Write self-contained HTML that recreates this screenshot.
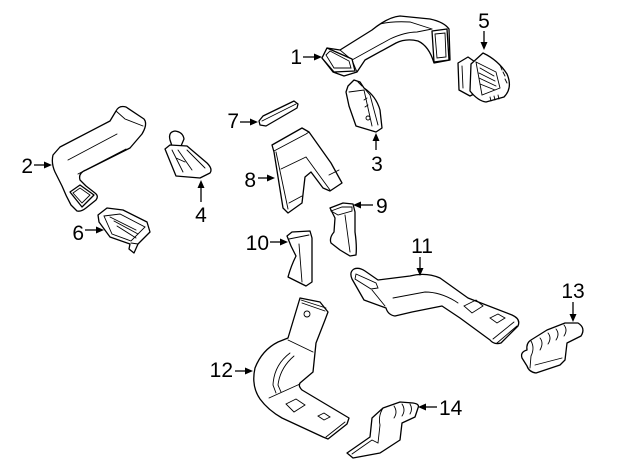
<!DOCTYPE html>
<html><head><meta charset="utf-8"><style>
html,body{margin:0;padding:0;background:#fff;}
svg{display:block;}
text{font-family:"Liberation Sans",Arial,sans-serif;font-size:21px;fill:#000;}
.p{fill:#fff;stroke:#000;stroke-width:1.3;stroke-linejoin:round;stroke-linecap:round;}
.l{fill:none;stroke:#000;stroke-width:0.9;stroke-linecap:round;}
.a{stroke:#000;stroke-width:1.3;fill:none;}
.h{fill:#000;}
</style></head><body>
<svg width="640" height="471" viewBox="0 0 640 471" xmlns="http://www.w3.org/2000/svg">

<!-- Part 1 -->
<path class="p" d="M322,58 L327,48 L340,50 L372,30 Q388,17 400,16 L430,19 Q444,22 449,29 L450,60 L434,63 Q429,46 418,41 Q406,38 396,43 L365,60 L357,72 L344,76 L333,72 Z"/>
<path class="l" d="M352,60 L390,39 Q405,32 417,32 L432,29"/>
<path class="l" d="M340,50 L352,60 L357,72"/>
<path class="l" d="M380,24 Q392,21 410,22 L432,29"/>
<path class="p" d="M432,31 L447,29 L449,60 L434,62 Z"/>
<path class="l" d="M435,34 L445,33 L446,57 L437,58 Z"/>
<path class="p" d="M322,58 L327,48 L352,59 L355,71 L334,72 Z"/>
<path class="l" d="M326,55 L330,51 L349,61 L351,68 L334,68 Z"/>

<!-- Part 5 -->
<path class="p" d="M458,63 L468,57 L478,64 L478,92 L470,96 L459,90 Z"/>
<path class="l" d="M462,66 L463,88"/>
<path class="p" d="M483,53 Q498,60 507,74 Q513,88 504,97 L486,102 Q478,101 470,91 L471,64 Z"/>
<path class="l" d="M476,62 L496,72 L500,88 L482,95 Z"/>
<path class="l" d="M480,68 L494,76 M479,73 L495,81 M479,78 L496,86 M480,84 L495,90"/>
<path class="l" d="M500,65 L502,70 M503,72 L505,76 M505,79 L507,83 M490,97 L491,101 M494,96 L495,100 M498,95 L499,99"/>

<!-- Part 3 -->
<path class="p" d="M348,86 L354,80 L360,82 L364,88 Q376,96 380,110 L382,128 L376,132 L356,126 L349,106 L346,92 Z"/>
<path class="l" d="M349,92 L364,90 L372,126"/>
<path class="l" d="M364,88 L370,95 L378,125"/>
<path class="l" d="M358,82 L362,86"/>
<circle class="l" cx="368" cy="118" r="2"/>
<path class="l" d="M364,100 L367,98 M365,107 L368,105"/>

<!-- Part 2 -->
<path class="p" d="M53,155 Q51,163 55,172 L62,186 Q66,196 71,205 L77,211 Q81,212 86,208 L96,200 Q99,196 95,193 L86,186 L80,180 Q78,173 86,170 L130,148 L142,134 Q148,124 144,119 L126,107 Q119,105 116,111 L110,121 L60,147 Z"/>
<path class="l" d="M68,160 L117,134 M78,174 L126,149 M116,111 L125,119 L143,126"/>
<path class="p" d="M70,192 L80,185 L94,195 L82,207 Z"/>
<path class="l" d="M73,193 L80,188 L90,195 L82,203 Z"/>

<!-- Part 4 -->
<path class="p" d="M170,140 Q168,132 175,131 Q183,132 184,139 L181,146 L172,146 Z"/>
<path class="p" d="M165,149 L170,145 L187,146 L207,163 Q213,169 210,173 L200,178 L176,176 Z"/>
<path class="l" d="M172,150 L183,172 M178,150 L192,170 M187,150 L205,168 M176,158 L185,162"/>

<!-- Part 6 -->
<path class="p" d="M98,215 L107,208 L123,210 L147,222 L150,232 L138,244 L134,253 L129,249 L130,244 L110,237 L99,222 Z"/>
<path class="l" d="M104,216 L120,214 L145,227 L131,241 L112,234 Z"/>
<path class="l" d="M110,217 L136,230 M114,221 L138,234 M117,226 L136,238"/>
<path class="l" d="M131,243 L138,244"/>

<!-- Part 7 -->
<path class="p" d="M259,121 L263,116 L294,101 L298,104 L297,108 L266,126 L260,125 Z"/>
<path class="l" d="M262,121 L296,104"/>

<!-- Part 8 -->
<path class="p" d="M272,145 L274,152 L283,208 L288,213 L302,203 L305,177 L311,172 L323,188 L330,191 L342,183 L331,163 L309,132 L302,128 Z"/>
<path class="l" d="M274,151 L306,134 L309,132 M276,152 L288,209 M281,169 L306,157 M306,157 L330,190 M289,203 L302,196 M329,175 L339,170"/>

<!-- Part 9 -->
<path class="p" d="M330,208 L343,203 L353,204 L355,212 L355,232 Q357,246 356,255 L350,256 L340,250 L331,243 Q329,238 334,232 L335,218 Z"/>
<path class="l" d="M331,211 L342,207 L352,207 L352,211 L338,215 Z"/>
<path class="l" d="M345,215 L350,252"/>

<!-- Part 10 -->
<path class="p" d="M287,236 L292,232 L310,231 L312,238 L312,282 L306,286 L288,277 Q291,266 296,256 L291,246 Z"/>
<path class="l" d="M289,239 L309,235 M299,244 L302,282"/>

<!-- Part 11 -->
<path class="p" d="M352,279 Q349,272 354,269 Q359,267 365,271 L378,280 L410,276 Q426,272 440,278 L468,298 L512,315 Q521,319 518,326 L501,343 Q494,345 490,340 L460,318 L442,306 L412,312 L395,316 Q388,315 386,308 L364,300 Z"/>
<path class="l" d="M356,274 L376,283 L378,288 L371,289 L355,279 Z"/>
<path class="l" d="M372,290 L385,306 M393,298 L425,292 Q440,292 455,301 L458,303"/>
<path class="l" d="M464,306 L476,300 L483,306 L472,313 Z M490,318 L498,314 L505,318 L497,323 Z"/>
<path class="l" d="M493,339 L514,322 M497,343 L517,326"/>

<!-- Part 12 -->
<path class="p" d="M300,298 L288,338 L278,342 Q262,350 255,368 Q251,386 260,399 Q268,410 282,418 L323,437 L328,439 L347,424 L349,418 L302,390 Q298,386 300,383 L313,372 L316,343 L325,320 L328,312 L320,302 Z"/>
<path class="l" d="M301,300 L326,308 M302,303 L325,311"/>
<circle class="l" cx="307" cy="314" r="3"/>
<path class="l" d="M288,340 L313,352"/>
<path class="l" d="M290,353 Q274,365 273,385 L276,393 M294,356 Q280,368 278,385 L281,392"/>
<path class="l" d="M269,398 L300,384 M286,404 L296,399 L305,405 L294,412 Z M318,416 L324,413 L330,417 L324,420 Z M326,437 L345,422"/>

<!-- Part 13 -->
<path class="p" d="M527,350 Q526,343 531,340 L547,330 L565,323 L578,323 Q586,328 581,336 L567,343 L565,360 L560,365 L536,373 Q529,372 527,366 L522,358 Q520,352 527,350 Z"/>
<path class="l" d="M531,341 Q535,348 531,356 L530,368"/>
<path class="l" d="M548,333 Q552,338 548,344 M556,329 Q560,334 556,340 M564,325 Q568,330 564,336 M540,338 Q544,343 540,350"/>
<path class="l" d="M535,365 L562,358"/>

<!-- Part 14 -->
<path class="p" d="M413,403 Q420,404 418,408 L415,417 L402,423 L400,440 L380,453 L353,458 L347,453 L370,437 L372,418 L383,408 L400,402 Z"/>
<path class="l" d="M383,408 Q378,416 380,425 L378,443 M394,406 Q398,412 394,418 M402,404 Q406,410 402,416 M410,404 Q413,409 410,414"/>
<path class="l" d="M352,454 L372,440 L378,443"/>

<!-- Labels and arrows -->
<text x="302" y="64" text-anchor="end">1</text>
<line class="a" x1="303" y1="57" x2="316" y2="57"/><path class="h" d="M322,57 L314,53.5 L314,60.5 Z"/>

<text x="33" y="173" text-anchor="end">2</text>
<line class="a" x1="34" y1="165" x2="46" y2="165"/><path class="h" d="M52,165 L44,161.5 L44,168.5 Z"/>

<text x="377" y="171" text-anchor="middle">3</text>
<line class="a" x1="376" y1="150" x2="376" y2="139"/><path class="h" d="M376,133 L372.5,141 L379.5,141 Z"/>

<text x="201" y="222" text-anchor="middle">4</text>
<line class="a" x1="201" y1="202" x2="201" y2="186"/><path class="h" d="M201,180 L197.5,188 L204.5,188 Z"/>

<text x="484" y="28" text-anchor="middle">5</text>
<line class="a" x1="484" y1="31" x2="484" y2="44"/><path class="h" d="M484,50 L480.5,42 L487.5,42 Z"/>

<text x="84" y="240" text-anchor="end">6</text>
<line class="a" x1="85" y1="230" x2="98" y2="230"/><path class="h" d="M104,230 L96,226.5 L96,233.5 Z"/>

<text x="239" y="128" text-anchor="end">7</text>
<line class="a" x1="240" y1="122" x2="252" y2="122"/><path class="h" d="M258,122 L250,118.5 L250,125.5 Z"/>

<text x="256" y="187" text-anchor="end">8</text>
<line class="a" x1="258" y1="178" x2="269" y2="178"/><path class="h" d="M275,178 L267,174.5 L267,181.5 Z"/>

<text x="376" y="213">9</text>
<line class="a" x1="373" y1="205" x2="359" y2="205"/><path class="h" d="M353,205 L361,201.5 L361,208.5 Z"/>

<text x="269" y="250" text-anchor="end">10</text>
<line class="a" x1="270" y1="242" x2="282" y2="242"/><path class="h" d="M288,242 L280,238.5 L280,245.5 Z"/>

<text x="422" y="253" text-anchor="middle">11</text>
<line class="a" x1="420" y1="257" x2="420" y2="270"/><path class="h" d="M420,276 L416.5,268 L423.5,268 Z"/>

<text x="233" y="377" text-anchor="end">12</text>
<line class="a" x1="235" y1="371" x2="247" y2="371"/><path class="h" d="M253,371 L245,367.5 L245,374.5 Z"/>

<text x="573" y="298" text-anchor="middle">13</text>
<line class="a" x1="573" y1="302" x2="573" y2="316"/><path class="h" d="M573,322 L569.5,314 L576.5,314 Z"/>

<text x="439" y="415">14</text>
<line class="a" x1="437" y1="407" x2="424" y2="407"/><path class="h" d="M418,407 L426,403.5 L426,410.5 Z"/>
</svg>
</body></html>
